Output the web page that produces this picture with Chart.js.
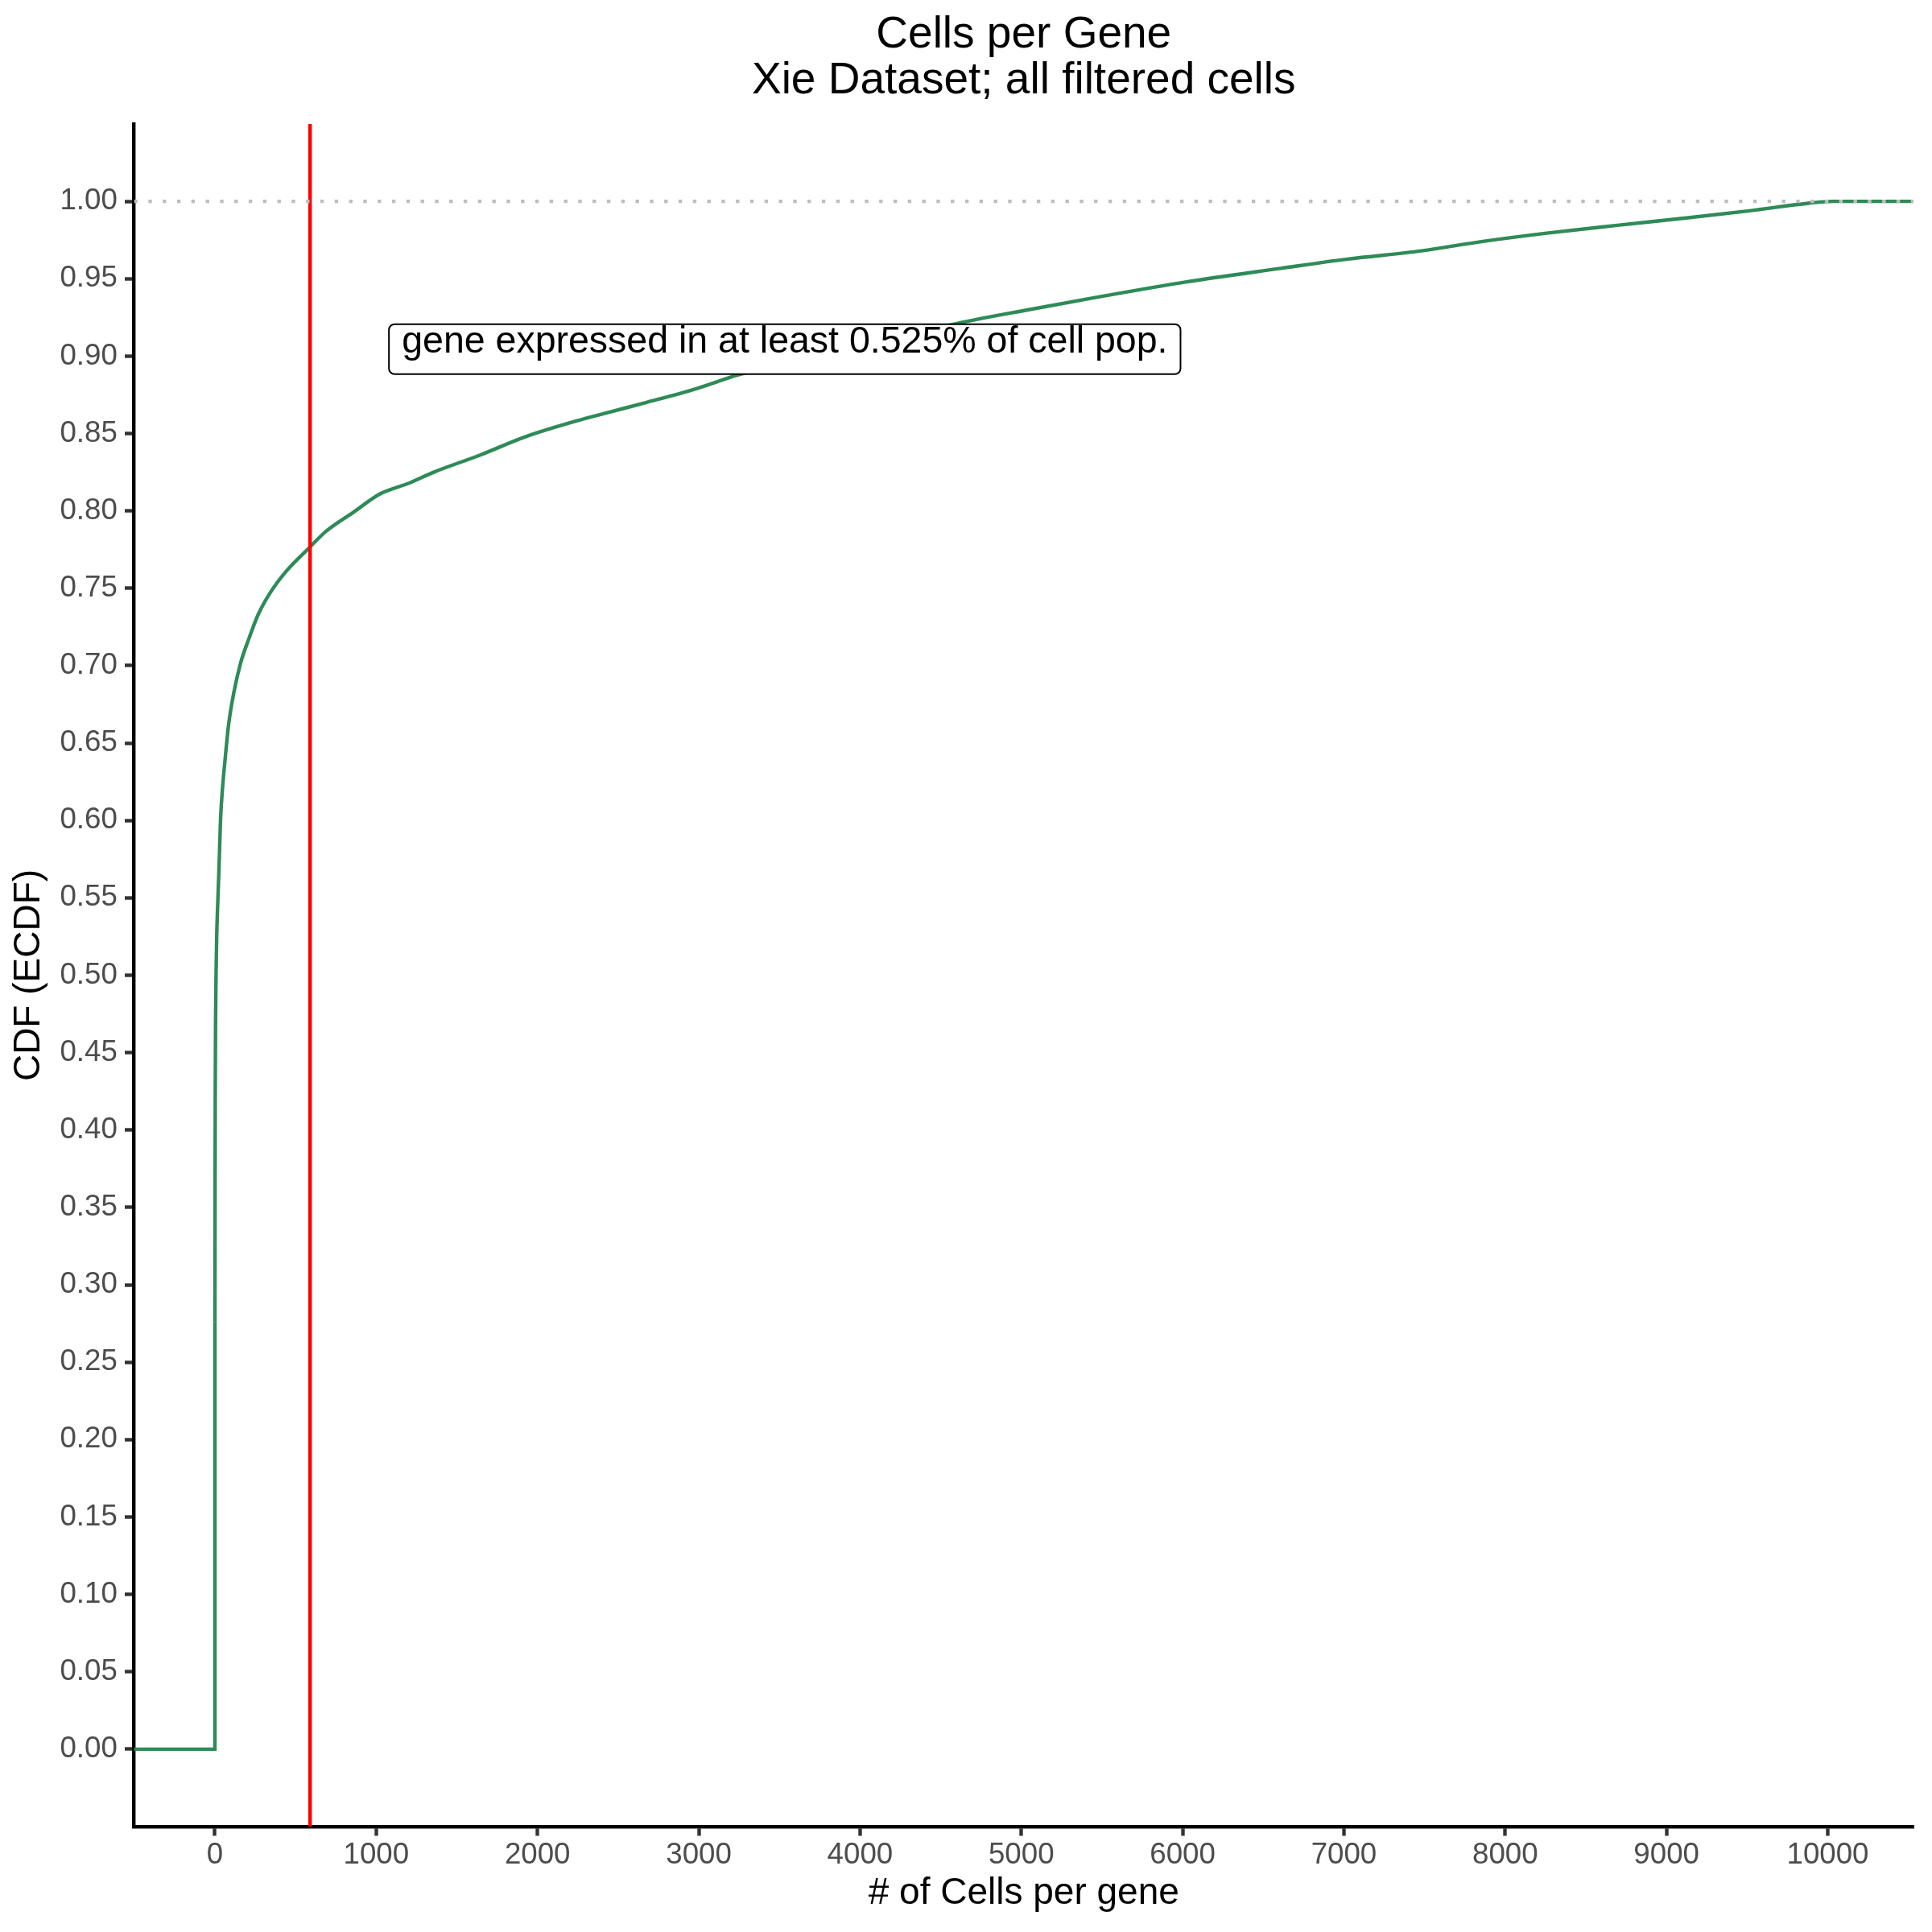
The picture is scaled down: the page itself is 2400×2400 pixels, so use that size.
<!DOCTYPE html>
<html>
<head>
<meta charset="utf-8">
<script src="https://cdn.jsdelivr.net/npm/chart.js@4.4.1/dist/chart.umd.min.js"></script>
<style>
  html, body { margin: 0; padding: 0; background: #fff; }
  #wrap { width: 2400px; height: 2400px; }
</style>
</head>
<body>
<div id="wrap"><canvas id="ecdf" width="2400" height="2400"></canvas></div>
<script>
// ECDF of number of cells per gene
const cellsPerGene = [-501.5, 0, 0, 1, 2, 4, 7, 11, 18, 25, 35, 48, 60, 85, 118, 160, 209, 268, 342, 442,
  583, 691, 857, 1024, 1206, 1356, 1642, 1928, 2272, 2453, 2672, 2985, 3250, 4596, 5045, 5444,
  6025, 6607, 7022, 7480, 7853, 8268, 8684, 9099, 9515, 9880, 10030, 10531.5]
const cdfValues = [0, 0, 0.276, 0.36, 0.42, 0.47, 0.50, 0.525, 0.548, 0.568, 0.601, 0.622, 0.636, 0.662, 0.683, 0.702,
  0.717, 0.733, 0.747, 0.761, 0.776, 0.787, 0.799, 0.811, 0.818, 0.825, 0.836, 0.848, 0.859, 0.864,
  0.870, 0.879, 0.888, 0.921, 0.930, 0.9376, 0.948, 0.9567, 0.9627, 0.968, 0.974, 0.9796, 0.9844,
  0.989, 0.9939, 0.9988, 1.0, 1.0]

// threshold (0.525% of cells) and the reference line at 1
const cutoff = 590
const refLevel = 1.0

const xRange = [-501.5, 10531.5]
const yRange = [-0.05, 1.05]
const xTicks = [0, 1000, 2000, 3000, 4000, 5000, 6000, 7000, 8000, 9000, 10000]
const yTicks = [0, 0.05, 0.1, 0.15, 0.2, 0.25, 0.3, 0.35, 0.4, 0.45, 0.5, 0.55, 0.6, 0.65, 0.7, 0.75,
  0.8, 0.85, 0.9, 0.95, 1.0]

const titleLines = ['Cells per Gene', 'Xie Dataset; all filtered cells']
const labelText = 'gene expressed in at least 0.525% of cell pop.'
const labelPos = { x: 3533, y: 0.9045 }

const FONT = '"Liberation Sans", Arial, sans-serif'
const GREEN = '#2E8B57'

const points = cellsPerGene.map((x, i) => ({ x, y: cdfValues[i] }))
// the jump at 0 is drawn straight, the rest is smoothed
const stepPart = points.slice(0, 3)
const curvePart = points.slice(2)

// boxed annotation like geom_label
const labelPlugin = {
  id: 'labelBox',
  afterDatasetsDraw(chart) {
    const { ctx, scales } = chart
    const cx = scales.x.getPixelForValue(labelPos.x)
    const cy = scales.y.getPixelForValue(labelPos.y)
    ctx.save()
    ctx.font = `46.5px ${FONT}`
    const w = ctx.measureText(labelText).width + 32
    const h = 62
    const left = cx - w / 2
    const top = cy - h / 2
    ctx.beginPath()
    ctx.roundRect(left, top, w, h, 7)
    ctx.fillStyle = '#ffffff'
    ctx.fill()
    ctx.lineWidth = 2
    ctx.strokeStyle = '#000000'
    ctx.stroke()
    ctx.fillStyle = '#000000'
    ctx.textBaseline = 'alphabetic'
    ctx.textAlign = 'left'
    ctx.fillText(labelText, left + 16, cy + 4.5)
    ctx.restore()
  }
}

const tickOpts = { color: '#4D4D4D', font: { family: FONT, size: 36.7 } }
const axisGrid = { drawOnChartArea: false, drawTicks: true, tickLength: 11.5, tickColor: '#333333', tickWidth: 4.4 }
const axisBorder = { display: true, color: '#000000', width: 4.4 }

new Chart(document.getElementById('ecdf'), {
  type: 'line',
  data: {
    datasets: [
      {
        data: [{ x: xRange[0], y: refLevel }, { x: xRange[1], y: refLevel }],
        borderColor: '#BEBEBE',
        borderWidth: 4.4,
        borderDash: [4.4, 13.4],
        pointRadius: 0,
        order: 1
      },
      {
        data: [{ x: cutoff, y: yRange[0] }, { x: cutoff, y: yRange[1] }],
        borderColor: '#FF0000',
        borderWidth: 4.4,
        pointRadius: 0,
        order: 2
      },
      {
        data: stepPart,
        borderColor: GREEN,
        borderWidth: 4.4,
        pointRadius: 0,
        tension: 0,
        order: 3
      },
      {
        data: curvePart,
        borderColor: GREEN,
        borderWidth: 4.4,
        pointRadius: 0,
        cubicInterpolationMode: 'monotone',
        borderJoinStyle: 'round',
        order: 3
      }
    ]
  },
  options: {
    responsive: false,
    animation: false,
    layout: { padding: { left: 0, right: 23, top: 0, bottom: 0 } },
    plugins: {
      legend: { display: false },
      tooltip: { enabled: false },
      title: {
        display: true,
        fullSize: false,
        text: titleLines,
        color: '#000000',
        font: { family: FONT, size: 55, weight: 'normal', lineHeight: 56.5 / 55 },
        padding: { top: 16, bottom: 25 }
      }
    },
    scales: {
      x: {
        type: 'linear',
        min: xRange[0],
        max: xRange[1],
        afterBuildTicks: (scale) => { scale.ticks = xTicks.map(v => ({ value: v })) },
        afterFit: (scale) => { scale.height = 131 },
        ticks: { ...tickOpts, padding: 2, maxRotation: 0, autoSkip: false, callback: (v) => String(v) },
        grid: axisGrid,
        border: axisBorder,
        title: {
          display: true,
          text: '# of Cells per gene',
          color: '#000000',
          font: { family: FONT, size: 46, lineHeight: 1.2 },
          padding: { top: 0, bottom: 19.8 }
        }
      },
      y: {
        type: 'linear',
        min: yRange[0],
        max: yRange[1],
        afterBuildTicks: (scale) => { scale.ticks = yTicks.map(v => ({ value: v })) },
        afterFit: (scale) => { scale.width = 166.5 },
        ticks: { ...tickOpts, padding: 9.2, autoSkip: false, callback: (v) => v.toFixed(2) },
        grid: axisGrid,
        border: axisBorder,
        title: {
          display: true,
          text: 'CDF (ECDF)',
          color: '#000000',
          font: { family: FONT, size: 46, lineHeight: 1.2 },
          padding: { top: 8.5, bottom: 0 }
        }
      }
    }
  },
  plugins: [labelPlugin]
})
</script>
</body>
</html>
